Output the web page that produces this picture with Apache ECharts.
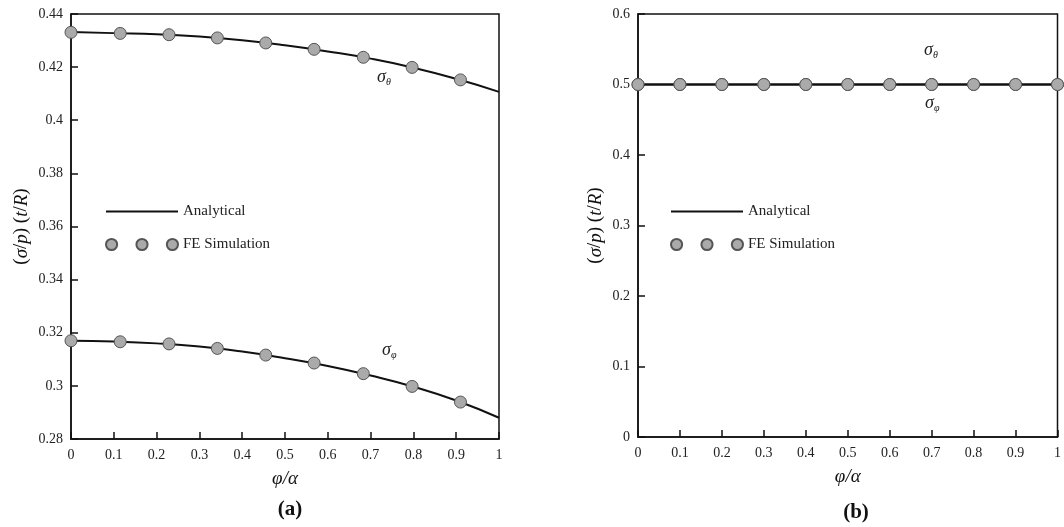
<!DOCTYPE html>
<html>
<head>
<meta charset="utf-8">
<script src="https://cdn.jsdelivr.net/npm/echarts@6/dist/echarts.min.js"></script>
<style>
  html, body { margin: 0; padding: 0; background: #fff; }
  #chart { width: 1064px; height: 527px; }
</style>
</head>
<body>
<div id="chart"></div>
<script>
// x positions (φ/α)
const xLine = [0, 0.1, 0.2, 0.3, 0.4, 0.5, 0.6, 0.7, 0.8, 0.9, 1]
const xFeA = [0, 0.115, 0.229, 0.342, 0.455, 0.568, 0.683, 0.797, 0.910]
const xFeB = [0, 0.1, 0.2, 0.3, 0.4, 0.5, 0.6, 0.7, 0.8, 0.9, 1]

// (a) analytical curves, read at each tenth
const thetaLineA = [0.4332, 0.4328, 0.4324, 0.4315, 0.4301, 0.4282, 0.4259, 0.4232, 0.4198, 0.4156, 0.4107]
const phiLineA = [0.3170, 0.3167, 0.3160, 0.3148, 0.3129, 0.3104, 0.3075, 0.3039, 0.2997, 0.2945, 0.2880]
// (a) FE simulation points
const thetaFeA = [0.4331, 0.4327, 0.4322, 0.4310, 0.4291, 0.4267, 0.4237, 0.4199, 0.4152]
const phiFeA = [0.3170, 0.3166, 0.3158, 0.3141, 0.3116, 0.3086, 0.3046, 0.2998, 0.2939]

// (b) sphere: both stresses constant
const thetaLineB = [0.5, 0.5, 0.5, 0.5, 0.5, 0.5, 0.5, 0.5, 0.5, 0.5, 0.5]
const phiLineB = [0.5, 0.5, 0.5, 0.5, 0.5, 0.5, 0.5, 0.5, 0.5, 0.5, 0.5]
const thetaFeB = [0.5, 0.5, 0.5, 0.5, 0.5, 0.5, 0.5, 0.5, 0.5, 0.5, 0.5]
const phiFeB = [0.5, 0.5, 0.5, 0.5, 0.5, 0.5, 0.5, 0.5, 0.5, 0.5, 0.5]

const FONT = 'Liberation Serif'
const pairs = (xs, ys) => xs.map((x, i) => [x, ys[i]])

const chart = echarts.init(document.getElementById('chart'))

// legend icons: a plain line, and three grey dots in a row
const lineIcon = 'path://M0,0 L72,0 L72,2 L0,2 Z'
const dotIcon = 'path://M0.5,6 a5.5,5.5 0 1,0 11,0 a5.5,5.5 0 1,0 -11,0 Z' +
  'M30.5,6 a5.5,5.5 0 1,0 11,0 a5.5,5.5 0 1,0 -11,0 Z' +
  'M60.5,6 a5.5,5.5 0 1,0 11,0 a5.5,5.5 0 1,0 -11,0 Z'

const xAxisBase = (gridIndex) => ({
  type: 'value',
  gridIndex,
  min: 0,
  max: 1,
  interval: 0.1,
  name: '{i|φ/α}',
  nameLocation: 'middle',
  nameGap: 30,
  nameTextStyle: { rich: { i: { fontFamily: FONT, fontStyle: 'italic', fontSize: 19, color: '#111' } } },
  axisLine: { lineStyle: { color: '#111', width: 1.5 } },
  axisTick: { inside: true, length: 7, lineStyle: { color: '#111', width: 1.5 } },
  axisLabel: { fontFamily: FONT, fontSize: 14, color: '#222', margin: 9 },
  splitLine: { show: false }
})

const yName = '{p|(}{i|σ}{p|/}{i|p}{p|) (}{i|t}{p|/}{i|R}{p|)}'
const yNameStyle = {
  rich: {
    p: { fontFamily: FONT, fontSize: 19, color: '#111' },
    i: { fontFamily: FONT, fontStyle: 'italic', fontSize: 19, color: '#111' }
  }
}

const yAxisBase = (gridIndex, min, max, interval, gap) => ({
  type: 'value',
  gridIndex,
  min,
  max,
  interval,
  name: yName,
  nameLocation: 'middle',
  nameRotate: 90,
  nameGap: gap,
  nameTextStyle: yNameStyle,
  axisLine: { lineStyle: { color: '#111', width: 1.5 } },
  axisTick: { inside: true, length: 7, lineStyle: { color: '#111', width: 1.5 } },
  axisLabel: { fontFamily: FONT, fontSize: 14, color: '#222', margin: 8 },
  splitLine: { show: false }
})

const lineSeries = (xi, data) => ({
  name: 'Analytical',
  type: 'line',
  xAxisIndex: xi,
  yAxisIndex: xi,
  data,
  smooth: true,
  symbol: 'none',
  lineStyle: { color: '#111', width: 2 },
  itemStyle: { color: '#111' },
  z: 2
})

const feSeries = (xi, data) => ({
  name: 'FE Simulation',
  type: 'scatter',
  xAxisIndex: xi,
  yAxisIndex: xi,
  data,
  symbol: 'circle',
  symbolSize: 12,
  itemStyle: { color: '#aaaaaa', borderColor: '#555', borderWidth: 1, opacity: 1 },
  z: 3
})

const legendBase = (left) => ({
  left,
  top: 204,
  padding: 0,
  orient: 'vertical',
  itemWidth: 72,
  itemHeight: 12,
  itemGap: 18,
  textStyle: { fontFamily: FONT, fontSize: 15, color: '#222' },
  data: [
    { name: 'Analytical', icon: lineIcon },
    { name: 'FE Simulation', icon: dotIcon }
  ]
})

const sigma = (sub, x, y) => ({
  type: 'text',
  left: x,
  top: y,
  style: {
    text: '{s|σ}{b|' + sub + '}',
    rich: {
      s: { fontFamily: FONT, fontStyle: 'italic', fontSize: 18, fill: '#222' },
      b: { fontFamily: FONT, fontStyle: 'italic', fontSize: 10, fill: '#222', padding: [10, 0, 0, 0] }
    }
  }
})

const option = {
  animation: false,
  backgroundColor: '#fff',
  grid: [
    { left: 71, top: 14, width: 428, height: 425, show: true, borderColor: '#111', borderWidth: 1.5 },
    { left: 638, top: 14, width: 423, height: 423, show: true, borderColor: '#111', borderWidth: 1.5 }
  ],
  xAxis: [xAxisBase(0), xAxisBase(1)],
  yAxis: [
    yAxisBase(0, 0.28, 0.44, 0.02, 40),
    yAxisBase(1, 0, 0.6, 0.1, 33)
  ],
  legend: [legendBase(105), legendBase(670)],
  title: [
    { text: '(a)', left: 285, top: 494, textAlign: 'center',
      textStyle: { fontFamily: FONT, fontWeight: 'bold', fontSize: 21, color: '#111' } },
    { text: '(b)', left: 851, top: 497, textAlign: 'center',
      textStyle: { fontFamily: FONT, fontWeight: 'bold', fontSize: 21, color: '#111' } }
  ],
  graphic: [
    sigma('θ', 377, 68),
    sigma('φ', 382, 341),
    sigma('θ', 924, 41),
    sigma('φ', 925, 94)
  ],
  series: [
    lineSeries(0, pairs(xLine, thetaLineA)),
    lineSeries(0, pairs(xLine, phiLineA)),
    feSeries(0, pairs(xFeA, thetaFeA)),
    feSeries(0, pairs(xFeA, phiFeA)),
    lineSeries(1, pairs(xLine, thetaLineB)),
    lineSeries(1, pairs(xLine, phiLineB)),
    feSeries(1, pairs(xFeB, thetaFeB)),
    feSeries(1, pairs(xFeB, phiFeB))
  ]
}

chart.setOption(option)
window.addEventListener('resize', () => chart.resize())
</script>
</body>
</html>
